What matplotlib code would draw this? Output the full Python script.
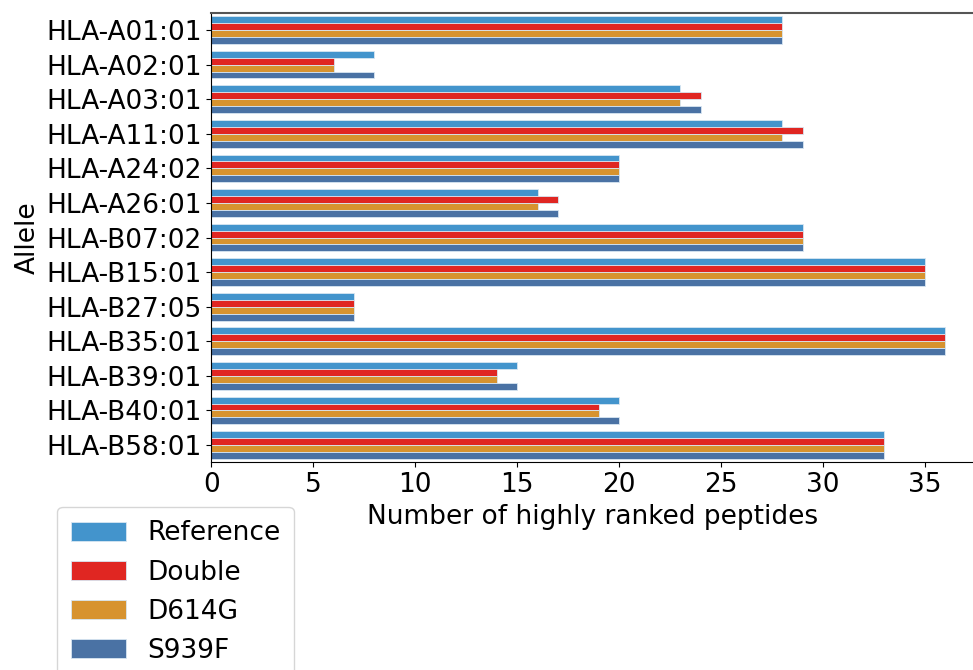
import matplotlib.pyplot as plt
import numpy as np

alleles = ['HLA-A01:01', 'HLA-A02:01', 'HLA-A03:01', 'HLA-A11:01', 'HLA-A24:02',
           'HLA-A26:01', 'HLA-B07:02', 'HLA-B15:01', 'HLA-B27:05', 'HLA-B35:01',
           'HLA-B39:01', 'HLA-B40:01', 'HLA-B58:01']
reference = [28, 8, 23, 28, 20, 16, 29, 35, 7, 36, 15, 20, 33]
double = [28, 6, 24, 29, 20, 17, 29, 35, 7, 36, 14, 19, 33]
d614g = [28, 6, 23, 28, 20, 16, 29, 35, 7, 36, 14, 19, 33]
s939f = [28, 8, 24, 29, 20, 17, 29, 35, 7, 36, 15, 20, 33]

series = [('Reference', reference, '#4394cc'),
          ('Double', double, '#e02622'),
          ('D614G', d614g, '#d7932f'),
          ('S939F', s939f, '#4a72a4')]

fig = plt.figure(figsize=(9.73, 6.70), dpi=100)
ax = fig.add_axes([0.217, 0.310, 0.783, 0.671])

y = np.arange(len(alleles))
h = 0.2
for i, (name, vals, col) in enumerate(series):
    ax.barh(y - 0.3 + i * h, vals, height=h, color=col, edgecolor='#d8e6f2',
            linewidth=0.6, label=name)

fs = 19
ax.set_yticks(y)
ax.set_yticklabels(alleles, fontsize=fs)
ax.set_ylim(len(alleles) - 0.5, -0.5)
ax.set_xlim(0, 37.35)
ax.set_xticks(range(0, 40, 5))
ax.tick_params(axis='x', labelsize=fs)
ax.set_xlabel('Number of highly ranked peptides', fontsize=fs)
ax.set_ylabel('Allele', fontsize=fs)
ax.spines['right'].set_visible(False)
ax.spines['top'].set_color('#555555')
ax.spines['top'].set_linewidth(1.5)

fig.legend(loc='upper left', bbox_to_anchor=(0.059, 0.243), borderaxespad=0,
           fontsize=fs, handlelength=2.1, handleheight=0.75, borderpad=0.5,
           labelspacing=0.5)

fig.savefig('out.png', dpi=100)
